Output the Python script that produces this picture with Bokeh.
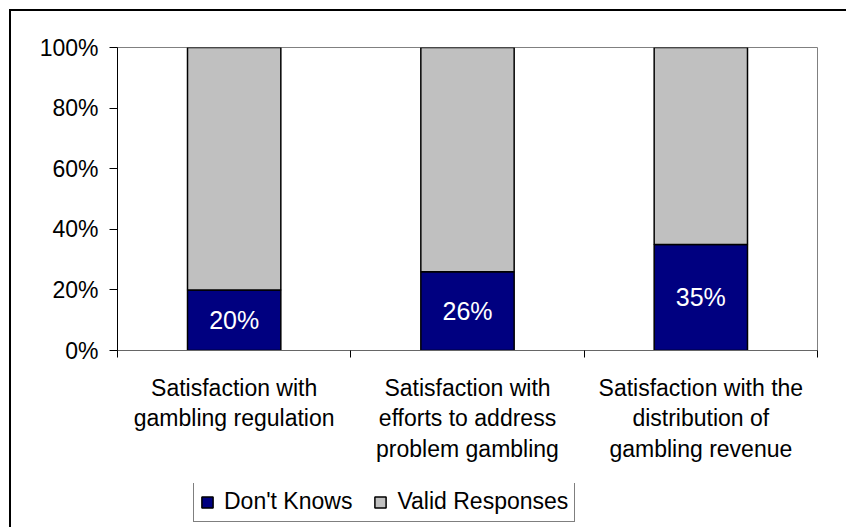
from bokeh.plotting import figure
from bokeh.layouts import column
from bokeh.models import (ColumnDataSource, Range1d, FixedTicker, PrintfTickFormatter,
                          Legend, LegendItem)
from bokeh.core.properties import value
from bokeh.embed import file_html
from bokeh.resources import INLINE

# ---- data ----
categories = [
    "Satisfaction with\ngambling regulation",
    "Satisfaction with\nefforts to address\nproblem gambling",
    "Satisfaction with the\ndistribution of\ngambling revenue",
]
dont_knows = [20, 26, 35]
valid_responses = [80, 74, 65]
series_names = ["Don't Knows", "Valid Responses"]
series_fields = ["dk", "valid"]
series_colors = ["#000080", "#C0C0C0"]
y_ticks = [0, 20, 40, 60, 80, 100]

FONT = "Liberation Sans"

xs = [i + 0.5 for i in range(len(categories))]
src = ColumnDataSource(dict(x=xs, dk=dont_knows, valid=valid_responses))

p = figure(width=835, height=472, output_backend="svg", toolbar_location=None,
           x_range=Range1d(0, len(categories)), y_range=Range1d(0, 100),
           min_border_left=106, min_border_right=29, min_border_top=36,
           min_border_bottom=133)
p.background_fill_color = "white"
p.border_fill_color = "white"
p.outline_line_color = "#808080"
p.outline_line_width = 1
p.xgrid.visible = False
p.ygrid.visible = False

p.vbar_stack(series_fields, x="x", width=0.4, source=src,
             fill_color=series_colors, line_color="black", line_width=1.5)

# bar labels
lab_src = ColumnDataSource(dict(x=xs, y=[v / 2 for v in dont_knows],
                                t=[f"{v}%" for v in dont_knows]))
p.text(x="x", y="y", text="t", source=lab_src, text_color="white",
       text_font_size="25px", text_align="center", text_baseline="middle",
       text_font=value(FONT))

# y axis
ya = p.yaxis[0]
ya.ticker = FixedTicker(ticks=y_ticks)
ya.formatter = PrintfTickFormatter(format="%d%%")
ya.major_label_text_font = FONT
ya.major_label_text_font_size = "23px"
ya.major_label_text_color = "black"
ya.major_tick_out = 8
ya.major_tick_in = 0
ya.minor_tick_line_color = None
ya.axis_line_color = "black"
ya.major_tick_line_color = "black"
ya.major_label_standoff = 11

# x axis
xa = p.xaxis[0]
xa.ticker = FixedTicker(ticks=xs, minor_ticks=list(range(len(categories) + 1)))
xa.major_label_overrides = {x: c for x, c in zip(xs, categories)}
xa.major_label_text_font = FONT
xa.major_label_text_font_size = "23px"
xa.major_label_text_color = "black"
xa.major_label_text_line_height = 1.18
xa.major_tick_line_color = None
xa.major_tick_out = 0
xa.major_tick_in = 0
xa.minor_tick_out = 7
xa.minor_tick_in = 0
xa.minor_tick_line_color = "black"
xa.axis_line_color = "#666666"
xa.major_label_standoff = 17

# legend strip below the chart (hidden proxy bars supply the legend swatches)
q = figure(width=835, height=44, output_backend="svg", toolbar_location=None,
           x_range=Range1d(0, len(categories)), y_range=Range1d(0, 100),
           x_axis_location=None, y_axis_location=None,
           min_border_left=106, min_border_right=29, min_border_top=0,
           min_border_bottom=0)
q.outline_line_color = None
q.grid.visible = False
q.background_fill_color = "white"
q.border_fill_color = "white"
items = []
for name, field, col in zip(series_names, series_fields, series_colors):
    r = q.vbar(x="x", top=field, width=0.4, source=src, fill_color=col,
               line_color="black", line_width=1.5, visible=False)
    items.append(LegendItem(label=name, renderers=[r]))

lg = Legend(items=items, orientation="horizontal", location=(76, 5), margin=0,
            padding=6, spacing=21, label_standoff=10, glyph_width=14, glyph_height=14,
            label_text_font=FONT, label_text_font_size="23px", label_text_color="black",
            border_line_color="black", border_line_width=1,
            background_fill_color="white", background_fill_alpha=1,
            inactive_fill_alpha=0)
q.add_layout(lg, "center")

layout = column(p, q, spacing=0, margin=(9, 0, 0, 9),
                styles={"border-left": "2px solid black", "border-top": "2px solid black"})

open("out.html", "w").write(file_html(layout, INLINE))
